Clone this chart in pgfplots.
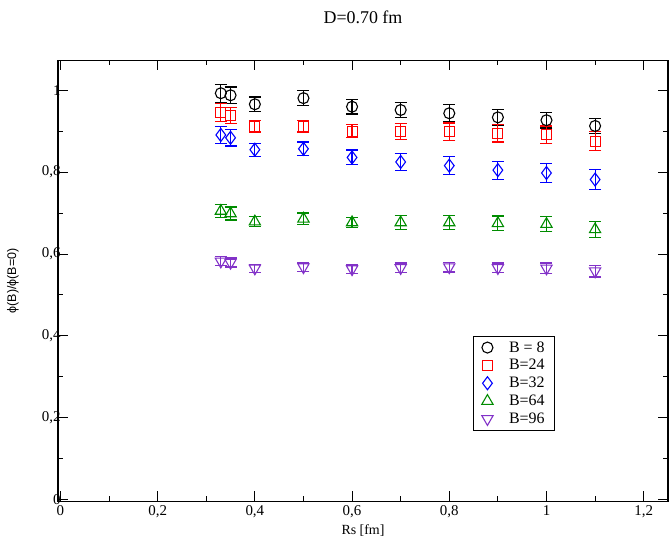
\documentclass[border=0pt]{standalone}
\usepackage{fontspec}
\setmainfont{Liberation Serif}
\setsansfont{Liberation Sans}
\usepackage{pgfplots}
\pgfplotsset{compat=1.18}
\definecolor{bgreen}{RGB}{0,140,0}
\definecolor{bpurple}{RGB}{130,50,200}
\pgfplotsset{
  mk/.style={only marks, line width=1.1pt,
    error bars/error bar style={#1},
    error bars/error mark options={#1, rotate=90, mark size=6bp, line width=1.2pt}},
}
\begin{document}
\begin{tikzpicture}
\begin{axis}[
    scale only axis,
    width=610bp, height=441bp,
    xmin=-0.005, xmax=1.25,
    ymin=-0.005, ymax=1.073,
    xtick={0,0.2,...,1.2}, ytick={0,0.2,...,1.0},
    minor tick num=1,
    tick align=inside,
    major tick length=10bp, minor tick length=5bp,
    axis line style={line width=1.2pt},
    every tick/.style={black, line width=0.9pt},
    /pgf/number format/use comma,
    /pgf/number format/assume math mode=true,
    ticklabel style={font=\fontsize{15}{15}\selectfont},
    xticklabel style={yshift=-1bp},
    yticklabel style={xshift=6bp},
    title={D=0.70 fm},
    title style={font=\fontsize{18}{18}\selectfont, at={(axis description cs:0.5,1)}, anchor=center, yshift=37bp},
    xlabel={Rs [fm]},
    xlabel style={font=\fontsize{14}{14}\selectfont, at={(axis description cs:0.5,0)}, anchor=center, yshift=-29bp},
    ylabel={\sffamily ϕ(B)/ϕ(B=0)},
    ylabel style={font=\fontsize{12.5}{12.5}\selectfont, at={(axis description cs:-0.074,0.5)}, anchor=center},
    legend style={at={(0.681,0.375)}, anchor=north west, draw=black, line width=0.8pt,
        font=\fontsize{16}{16}\selectfont, row sep=1.8bp, inner xsep=8bp, inner ysep=3bp},
    legend cell align=left,
    error bars/y dir=both, error bars/y explicit,
    error bars/error bar style={line width=1.2pt},
]
\addplot[black, mk=black, mark=o, mark size=5.5bp]
  coordinates {
    (0.33,0.993) +- (0,0.022) (0.35,0.988) +- (0,0.020) (0.4,0.966) +- (0,0.018)
    (0.5,0.981) +- (0,0.018) (0.6,0.960) +- (0,0.018) (0.7,0.952) +- (0,0.018)
    (0.8,0.944) +- (0,0.021) (0.9,0.934) +- (0,0.019) (1.0,0.927) +- (0,0.019)
    (1.1,0.913) +- (0,0.019)
  };
\addlegendentry{\hspace{14bp}B = 8}
\addplot[red, mk=red, mark=square, mark size=5bp]
  coordinates {
    (0.33,0.946) +- (0,0.022) (0.35,0.939) +- (0,0.020) (0.4,0.912) +- (0,0.014)
    (0.5,0.912) +- (0,0.014) (0.6,0.900) +- (0,0.016) (0.7,0.899) +- (0,0.020)
    (0.8,0.899) +- (0,0.021) (0.9,0.895) +- (0,0.021) (1.0,0.892) +- (0,0.021)
    (1.1,0.876) +- (0,0.023)
  };
\addlegendentry{\hspace{14bp}B=24}
\addplot[blue, mk=blue, mark=diamond, mark size=6.5bp]
  coordinates {
    (0.33,0.891) +- (0,0.020) (0.35,0.884) +- (0,0.020) (0.4,0.855) +- (0,0.016)
    (0.5,0.857) +- (0,0.017) (0.6,0.836) +- (0,0.018) (0.7,0.825) +- (0,0.021)
    (0.8,0.816) +- (0,0.022) (0.9,0.805) +- (0,0.022) (1.0,0.798) +- (0,0.024)
    (1.1,0.782) +- (0,0.024)
  };
\addlegendentry{\hspace{14bp}B=32}
\addplot[bgreen, mk=bgreen, mark=triangle, mark size=6.5bp]
  coordinates {
    (0.33,0.705) +- (0,0.016) (0.35,0.699) +- (0,0.016) (0.4,0.679) +- (0,0.012)
    (0.5,0.686) +- (0,0.014) (0.6,0.677) +- (0,0.013) (0.7,0.677) +- (0,0.017)
    (0.8,0.677) +- (0,0.018) (0.9,0.675) +- (0,0.018) (1.0,0.673) +- (0,0.018)
    (1.1,0.660) +- (0,0.020)
  };
\addlegendentry{\hspace{14bp}B=64}
\addplot[bpurple, mk=bpurple, mark=triangle, mark options={rotate=180}, mark size=6.5bp]
  coordinates {
    (0.33,0.582) +- (0,0.011) (0.35,0.579) +- (0,0.011) (0.4,0.565) +- (0,0.010)
    (0.5,0.568) +- (0,0.010) (0.6,0.563) +- (0,0.010) (0.7,0.566) +- (0,0.012)
    (0.8,0.568) +- (0,0.012) (0.9,0.566) +- (0,0.012) (1.0,0.565) +- (0,0.013)
    (1.1,0.558) +- (0,0.014)
  };
\addlegendentry{\hspace{14bp}B=96}
\end{axis}
\pgfresetboundingbox
\path (current axis.south west) ++(-58bp,-37.5bp) rectangle ++(672bp,539bp);
\end{tikzpicture}
\end{document}
